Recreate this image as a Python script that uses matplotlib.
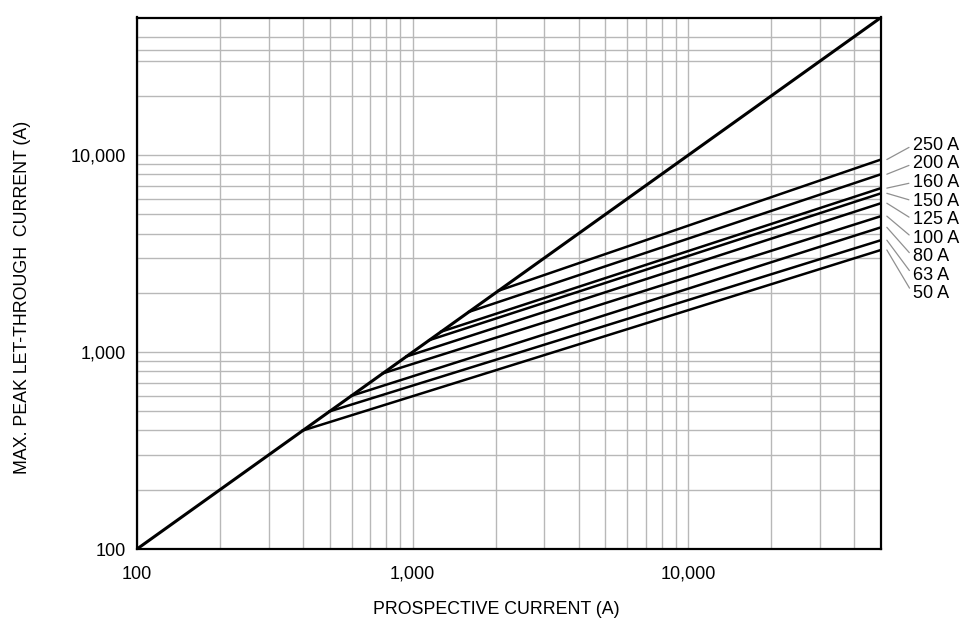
import matplotlib
matplotlib.use('Agg')
import matplotlib.pyplot as plt
from matplotlib.ticker import FixedLocator, NullFormatter

# fuse ratings and their cut-off curves (start on the diagonal, end at 50 kA)
ratings = [50, 63, 80, 100, 125, 150, 160, 200, 250]
start_current = [400, 500, 600, 780, 950, 1150, 1270, 1600, 2050]
end_current = [3300, 3700, 4300, 4900, 5700, 6400, 6800, 8000, 9500]

x_max = 50000
diag = [100, 50000]

x_grid = [200, 300, 400, 500, 600, 700, 800, 900,
          2000, 3000, 4000, 5000, 6000, 7000, 8000, 9000,
          20000, 30000, 40000]
y_grid = [200, 300, 400, 500, 600, 700, 800, 900,
          2000, 3000, 4000, 5000, 6000, 7000, 8000, 9000,
          20000, 30000, 34000, 40000]
major = [100, 1000, 10000]
major_labels = ['100', '1,000', '10,000']

plt.rcParams['font.family'] = ['Liberation Sans Narrow', 'Liberation Sans', 'DejaVu Sans']

fig = plt.figure(figsize=(9.67, 6.34), dpi=100)
ax = fig.add_axes([137 / 967, 1 - 549 / 634, 744 / 967, 531.5 / 634])

ax.set_xscale('log')
ax.set_yscale('log')
ax.set_xlim(100, 50000)
ax.set_ylim(100, 50000)

ax.xaxis.set_major_locator(FixedLocator(major))
ax.yaxis.set_major_locator(FixedLocator(major))
ax.set_xticklabels(major_labels)
ax.set_yticklabels(major_labels)
ax.xaxis.set_minor_locator(FixedLocator(x_grid))
ax.yaxis.set_minor_locator(FixedLocator(y_grid))
ax.xaxis.set_minor_formatter(NullFormatter())
ax.yaxis.set_minor_formatter(NullFormatter())
ax.tick_params(which='both', length=0)
ax.tick_params(axis='x', pad=12, labelsize=13)
ax.tick_params(axis='y', pad=8, labelsize=13)
ax.grid(which='both', color='#b8b8b8', lw=1)
ax.set_axisbelow(True)

for s in ax.spines.values():
    s.set_linewidth(1.6)
    s.set_color('black')

ax.plot(diag, diag, color='black', lw=2.2, solid_capstyle='butt')
for r, s, e in zip(ratings, start_current, end_current):
    ax.plot([s, x_max], [s, e], color='black', lw=1.8)

# labels with leader lines to the right of the plot
for i, (r, e) in enumerate(zip(ratings, end_current)):
    ypix = 294 - i * 18.6
    ax.annotate(f'{r} A', xy=(52500, e), xycoords='data',
                xytext=(913 / 967, 1 - ypix / 634), textcoords='figure fraction',
                ha='left', va='center', fontsize=13,
                arrowprops=dict(arrowstyle='-', color='#909090', lw=0.9,
                                shrinkA=1, shrinkB=0, relpos=(0, 0.5)),
                annotation_clip=False)

ax.set_xlabel('PROSPECTIVE CURRENT (A)', fontsize=12.8)
ax.set_ylabel('MAX. PEAK LET-THROUGH  CURRENT (A)', fontsize=12.8)
ax.xaxis.set_label_coords(0.4825, -0.097)
ax.yaxis.set_label_coords(-0.142, 0.474)

fig.savefig('out.png', dpi=100)
